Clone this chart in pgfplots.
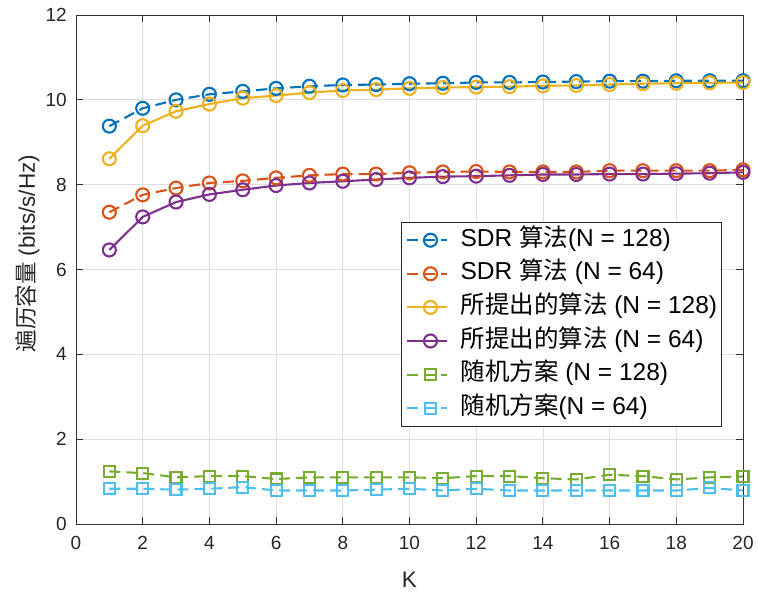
\documentclass[border=0pt]{standalone}
\usepackage{fontspec}
\setmainfont{Liberation Sans}
\newfontfamily\cjk{Noto Sans CJK SC}
\usepackage{pgfplots}
\pgfplotsset{compat=1.18}
\definecolor{c1}{rgb}{0,0.447,0.741}
\definecolor{c2}{rgb}{0.85,0.325,0.098}
\definecolor{c3}{rgb}{0.929,0.694,0.125}
\definecolor{c4}{rgb}{0.494,0.184,0.556}
\definecolor{c5}{rgb}{0.466,0.674,0.188}
\definecolor{c6}{rgb}{0.301,0.745,0.933}
\begin{document}
\begin{tikzpicture}
\path[use as bounding box] (-76pt,-70pt) rectangle (682pt,524pt);
\begin{axis}[
  name=ax, at={(0,0)}, anchor=south west,
  width=667pt, height=509pt, scale only axis,
  xmin=0, xmax=20, ymin=0, ymax=12,
  xtick={0,2,...,20}, ytick={0,2,...,12},
  tick align=inside, tick pos=both,
  major tick length=7pt,
  grid=major, grid style={black!13, line width=0.8pt},
  axis line style={black!80, line width=0.9pt},
  tick style={black!80, line width=0.9pt},
  /pgf/number format/assume math mode=true,
  ticklabel style={font=\fontsize{19}{19}\selectfont, text=black!85},
  xticklabel style={yshift=-9pt},
  yticklabel style={xshift=-5.7pt},
  xlabel={K}, ylabel={{\cjk 遍历容量} (bits/s/Hz)},
  label style={font=\fontsize{22.5}{22.5}\selectfont, text=black!85},
  xlabel style={at={(axis description cs:0.5,-0.1238)}, anchor=base},
  ylabel style={at={(axis description cs:-0.0615,0.531)}, anchor=base},
  legend style={at={(rel axis cs:0.4873,0.5933)}, anchor=north west,
    draw=black!85, line width=0.8pt, fill=white,
    font=\fontsize{24.5}{24.5}\selectfont, inner sep=1pt,
    nodes={text height=17pt, text depth=5pt, inner ysep=5.8pt, inner xsep=3pt}},
  legend cell align=left,
  legend image code/.code={\path (0pt,0pt) (53pt,0pt);\draw[mark repeat=2, mark phase=2, #1] plot coordinates {(4pt,0pt) (27pt,0pt) (44pt,0pt)};},
  sdr/.style={line width=2.1pt, dash pattern=on 11pt off 6pt, mark=o, mark size=6.5pt, mark options={solid}},
  prop/.style={line width=2.1pt, solid, mark=o, mark size=6.5pt},
  rnd/.style={line width=2.1pt, dash pattern=on 11pt off 6pt, mark=square, mark size=5.5pt, mark options={solid}},
]
\addplot[c1, sdr] coordinates {(1,9.38) (2,9.80) (3,10.00) (4,10.13) (5,10.20) (6,10.27) (7,10.32) (8,10.35) (9,10.36) (10,10.38) (11,10.39) (12,10.41) (13,10.41) (14,10.42) (15,10.43) (16,10.44) (17,10.44) (18,10.45) (19,10.45) (20,10.45)};
\addlegendentry{SDR {\cjk 算法}(N = 128)}
\addplot[c2, sdr] coordinates {(1,7.35) (2,7.76) (3,7.92) (4,8.04) (5,8.09) (6,8.16) (7,8.22) (8,8.25) (9,8.25) (10,8.28) (11,8.30) (12,8.31) (13,8.30) (14,8.30) (15,8.30) (16,8.33) (17,8.33) (18,8.33) (19,8.33) (20,8.35)};
\addlegendentry{SDR {\cjk 算法} (N = 64)}
\addplot[c3, prop] coordinates {(1,8.61) (2,9.39) (3,9.73) (4,9.90) (5,10.04) (6,10.10) (7,10.17) (8,10.22) (9,10.24) (10,10.27) (11,10.29) (12,10.30) (13,10.31) (14,10.33) (15,10.34) (16,10.36) (17,10.38) (18,10.39) (19,10.40) (20,10.41)};
\addlegendentry{{\cjk 所提出的算法} (N = 128)}
\addplot[c4, prop] coordinates {(1,6.46) (2,7.24) (3,7.59) (4,7.77) (5,7.88) (6,7.98) (7,8.04) (8,8.08) (9,8.12) (10,8.16) (11,8.19) (12,8.20) (13,8.22) (14,8.24) (15,8.24) (16,8.25) (17,8.25) (18,8.26) (19,8.27) (20,8.29)};
\addlegendentry{{\cjk 所提出的算法} (N = 64)}
\addplot[c5, rnd] coordinates {(1,1.24) (2,1.20) (3,1.10) (4,1.13) (5,1.13) (6,1.06) (7,1.10) (8,1.10) (9,1.10) (10,1.10) (11,1.08) (12,1.13) (13,1.13) (14,1.08) (15,1.05) (16,1.16) (17,1.13) (18,1.05) (19,1.10) (20,1.12)};
\addlegendentry{{\cjk 随机方案} (N = 128)}
\addplot[c6, rnd] coordinates {(1,0.83) (2,0.83) (3,0.81) (4,0.83) (5,0.87) (6,0.79) (7,0.79) (8,0.79) (9,0.81) (10,0.83) (11,0.79) (12,0.83) (13,0.79) (14,0.79) (15,0.79) (16,0.79) (17,0.79) (18,0.79) (19,0.85) (20,0.79)};
\addlegendentry{{\cjk 随机方案}(N = 64)}
\end{axis}
\end{tikzpicture}
\end{document}
